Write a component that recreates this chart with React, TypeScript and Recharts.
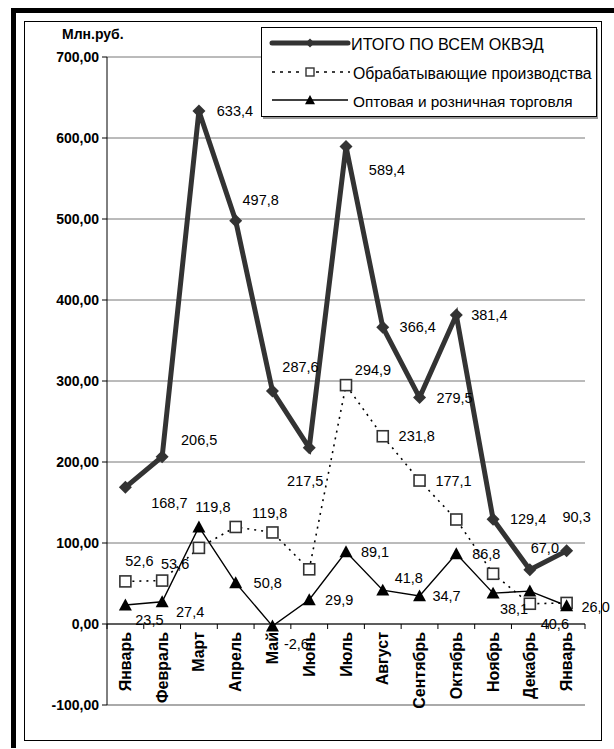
import React from 'react';
import { LineChart, Line, XAxis, YAxis, CartesianGrid, ReferenceLine, LabelList } from 'recharts';

// ---- data ----
const months = ['Январь', 'Февраль', 'Март', 'Апрель', 'Май', 'Июнь', 'Июль', 'Август', 'Сентябрь', 'Октябрь', 'Ноябрь', 'Декабрь', 'Январь'];
const totalAll = [168.7, 206.5, 633.4, 497.8, 287.6, 217.5, 589.4, 366.4, 279.5, 381.4, 129.4, 67.0, 90.3];
const manufacturing = [52.6, 53.6, 94.0, 119.8, 113.0, 67.5, 294.9, 231.8, 177.1, 129.0, 62.0, 25.0, 26.0];
const trade = [23.5, 27.4, 119.8, 50.8, -2.6, 29.9, 89.1, 41.8, 34.7, 86.8, 38.1, 40.6, 22.5];
const totalLabeled = [true, true, true, true, true, true, true, true, true, true, true, true, true];
const manufacturingLabeled = [true, true, false, true, false, false, true, true, true, false, false, false, true];
const tradeLabeled = [true, true, true, true, true, true, true, true, true, true, true, true, false];
const yTicks = [-100, 0, 100, 200, 300, 400, 500, 600, 700];
const seriesNames = ['ИТОГО ПО ВСЕМ ОКВЭД', 'Обрабатывающие производства', 'Оптовая и розничная торговля'];
const yUnit = 'Млн.руб.';

// ---- label nudges (style only, relative to each point) ----
const totalNudge = [[44, 16], [37, -17], [36, 0], [25, -21], [28, -24], [-4, 33], [41, 23], [35, 0], [35, 0], [33, 0], [35, 0], [15, -22], [10, -34]];
const manufacturingNudge = [[14, -20], [13, -17], [0, 0], [34, -14], [0, 0], [0, 0], [27, -15], [34, 0], [34, 0], [0, 0], [0, 0], [0, 0], [29, 4]];
const tradeNudge = [[24, 15], [28, 10], [14, -20], [32, 0], [24, 18], [30, 0], [29, 0], [26, -12], [27, 0], [30, 0], [21, 16], [25, 33], [0, 0]];

const data = months.map((m, i) => ({
  m,
  total: totalAll[i],
  manuf: manufacturing[i],
  trade: trade[i],
}));

// ---- layout ----
const W = 614;
const H = 749;
const PLOT_LEFT = 107;
const PLOT_RIGHT = 585;
const PLOT_TOP = 57;
const PLOT_BOTTOM = 705;
const X_AXIS_H = 10;
const Y_MIN = -100;
const Y_MAX = 700;
const ZERO_Y = PLOT_TOP + ((PLOT_BOTTOM - PLOT_TOP) * Y_MAX) / (Y_MAX - Y_MIN);
const BAND = (PLOT_RIGHT - PLOT_LEFT) / months.length;
const FONT = '"Liberation Sans", Arial, sans-serif';

const fmt1 = (v: number) => v.toFixed(1).replace('.', ',');
const fmt2 = (v: number) => v.toFixed(2).replace('.', ',');

const Diamond = ({ cx, cy, r = 6.5, fill = '#333' }: any) => (
  <polygon points={`${cx},${cy - r} ${cx + r},${cy} ${cx},${cy + r} ${cx - r},${cy}`} fill={fill} />
);
const Square = ({ cx, cy, s = 11 }: any) => (
  <rect x={cx - s / 2} y={cy - s / 2} width={s} height={s} fill="#fff" stroke="#333" strokeWidth={1.6} />
);
const Triangle = ({ cx, cy, s = 13 }: any) => (
  <polygon points={`${cx},${cy - s * 0.5} ${cx + s / 2},${cy + s * 0.42} ${cx - s / 2},${cy + s * 0.42}`} fill="#000" />
);

const makeLabel = (labeled: boolean[], nudge: number[][]) => (props: any) => {
  const { x, y, value, index } = props;
  if (!labeled[index] || x == null || y == null) return null;
  const [dx, dy] = nudge[index];
  return (
    <text
      key={`l${index}`}
      x={x + dx}
      y={y + dy}
      textAnchor="middle"
      dominantBaseline="central"
      fontFamily={FONT}
      fontSize={14.5}
      fill="#000"
    >
      {fmt1(Number(value))}
    </text>
  );
};

const XTick = (props: any) => {
  const { x, payload, index } = props;
  const last = index === months.length - 1;
  return (
    <g>
      <line x1={x - BAND / 2} x2={x - BAND / 2} y1={ZERO_Y} y2={ZERO_Y + 5} stroke="#000" />
      {last && <line x1={x + BAND / 2} x2={x + BAND / 2} y1={ZERO_Y} y2={ZERO_Y + 5} stroke="#000" />}
      <text
        x={x}
        y={ZERO_Y + 8}
        transform={`rotate(-90, ${x}, ${ZERO_Y + 8})`}
        textAnchor="end"
        dominantBaseline="central"
        fontFamily={FONT}
        fontWeight="bold"
        fontSize={16}
        fill="#000"
      >
        {payload.value}
      </text>
    </g>
  );
};

const LegendBox = () => (
  <svg width={W} height={H} style={{ position: 'absolute', left: 0, top: 0, pointerEvents: 'none' }}>
    <rect x={263} y={29} width={335} height={90} fill="#999" />
    <rect x={261.5} y={27.5} width={335} height={89} fill="#fff" stroke="#000" strokeWidth={1} />
    {/* row 1 */}
    <line x1={272} x2={348} y1={43} y2={43} stroke="#333" strokeWidth={5} strokeLinecap="round" />
    <Diamond cx={310} cy={43} r={4.5} />
    <text x={351} y={44} dominantBaseline="central" fontFamily={FONT} fontSize={16.2} fill="#000">{seriesNames[0]}</text>
    {/* row 2 */}
    <line x1={272} x2={304} y1={72} y2={72} stroke="#000" strokeWidth={1.6} strokeDasharray="3 5" />
    <line x1={316} x2={350} y1={72} y2={72} stroke="#000" strokeWidth={1.6} strokeDasharray="3 5" />
    <rect x={306} y={68} width={8} height={8} fill="#fff" stroke="#333" strokeWidth={1.4} />
    <text x={353} y={73} dominantBaseline="central" fontFamily={FONT} fontSize={15.8} fill="#000">{seriesNames[1]}</text>
    {/* row 3 */}
    <line x1={272} x2={348} y1={100} y2={100} stroke="#000" strokeWidth={1.4} />
    <Triangle cx={310} cy={100} s={10} />
    <text x={353} y={101} dominantBaseline="central" fontFamily={FONT} fontSize={15.4} fill="#000">{seriesNames[2]}</text>
  </svg>
);

export default function App() {
  return (
    <div style={{ position: 'absolute', left: 0, top: 0, width: W, height: H, background: '#fff', overflow: 'hidden' }}>
      {/* frame */}
      <div style={{ position: 'absolute', left: 11, top: 8, width: W - 11, height: 5, background: '#000' }} />
      <div style={{ position: 'absolute', left: 11, top: 8, width: 5, height: H - 9, background: '#000' }} />
      <div style={{ position: 'absolute', left: 24, top: 21, width: 602 - 24, height: 741 - 21, border: '1px solid #000', boxSizing: 'border-box' }} />
      <div
        style={{
          position: 'absolute',
          left: 62,
          top: 26,
          fontFamily: FONT,
          fontWeight: 'bold',
          fontSize: 14,
          color: '#000',
          lineHeight: '16px',
        }}
      >
        {yUnit}
      </div>
      <div style={{ position: 'absolute', left: 0, top: 0 }}>
        <LineChart
          width={W}
          height={H}
          data={data}
          margin={{ top: PLOT_TOP, right: W - PLOT_RIGHT, left: 0, bottom: H - PLOT_BOTTOM - X_AXIS_H }}
        >
          <CartesianGrid vertical={false} stroke="#777" strokeWidth={1} />
          <XAxis
            dataKey="m"
            height={X_AXIS_H}
            interval={0}
            padding={{ left: BAND / 2, right: BAND / 2 }}
            tickLine={false}
            axisLine={{ stroke: '#999' }}
            tick={<XTick />}
          />
          <YAxis
            width={PLOT_LEFT}
            domain={[Y_MIN, Y_MAX]}
            ticks={yTicks}
            interval={0}
            tickFormatter={fmt2}
            axisLine={{ stroke: '#000' }}
            tickLine={{ stroke: '#000' }}
            tickSize={5}
            tickMargin={3}
            tick={{ fontFamily: FONT, fontWeight: 'bold', fontSize: 14, fill: '#000' }}
          />
          <YAxis
            yAxisId="right"
            orientation="right"
            width={0}
            domain={[Y_MIN, Y_MAX]}
            tick={false}
            tickLine={false}
            axisLine={{ stroke: '#999' }}
          />
          <ReferenceLine y={0} stroke="#000" strokeWidth={1} />
          <Line
            dataKey="total"
            stroke="#333"
            strokeWidth={5}
            isAnimationActive={false}
            dot={(p: any) => <Diamond key={`d${p.index}`} cx={p.cx} cy={p.cy} />}
            activeDot={false}
          >
            <LabelList dataKey="total" content={makeLabel(totalLabeled, totalNudge)} />
          </Line>
          <Line
            dataKey="manuf"
            stroke="#000"
            strokeWidth={1.6}
            strokeDasharray="2 5"
            isAnimationActive={false}
            dot={(p: any) => <Square key={`s${p.index}`} cx={p.cx} cy={p.cy} />}
            activeDot={false}
          >
            <LabelList dataKey="manuf" content={makeLabel(manufacturingLabeled, manufacturingNudge)} />
          </Line>
          <Line
            dataKey="trade"
            stroke="#000"
            strokeWidth={1.4}
            isAnimationActive={false}
            dot={(p: any) => <Triangle key={`t${p.index}`} cx={p.cx} cy={p.cy} />}
            activeDot={false}
          >
            <LabelList dataKey="trade" content={makeLabel(tradeLabeled, tradeNudge)} />
          </Line>
        </LineChart>
      </div>
      <LegendBox />
    </div>
  );
}
